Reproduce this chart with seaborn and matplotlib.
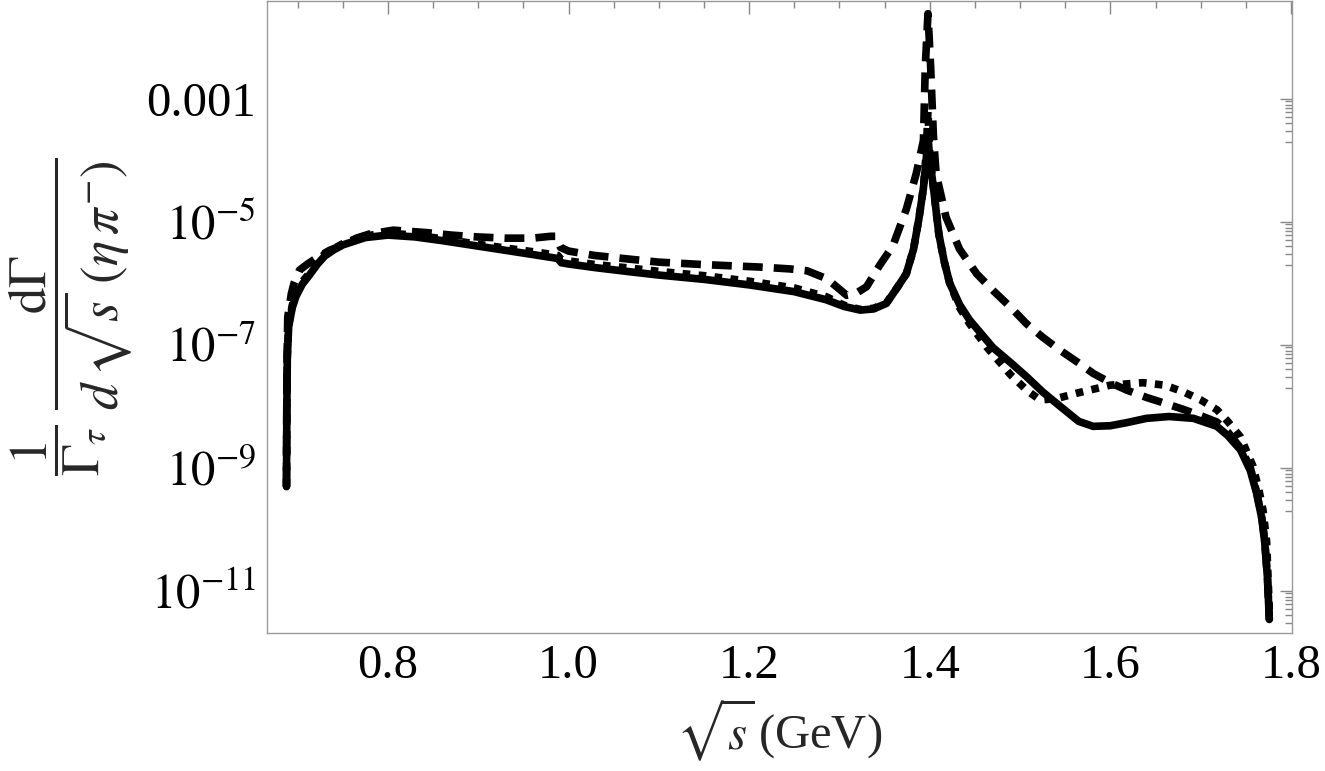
import numpy as np
import seaborn as sns
import matplotlib.pyplot as plt
from matplotlib.ticker import FixedLocator, FixedFormatter, MultipleLocator, NullFormatter, FormatStrFormatter

# curves: sqrt(s) in GeV, value as log10
solid_x = [0.6876, 0.6880, 0.6885, 0.690, 0.694, 0.698, 0.705, 0.713, 0.722, 0.730, 0.740, 0.750, 0.775,
           0.800, 0.830, 0.860, 0.900, 0.940, 0.975, 0.988, 0.992, 1.000, 1.030, 1.070, 1.100, 1.150,
           1.200, 1.250, 1.285, 1.305, 1.323, 1.338, 1.352, 1.365, 1.374, 1.382, 1.388, 1.393, 1.396,
           1.398, 1.400, 1.404, 1.410, 1.416, 1.422, 1.433, 1.444, 1.470, 1.490, 1.507, 1.525, 1.544,
           1.565, 1.581, 1.600, 1.618, 1.640, 1.665, 1.692, 1.718, 1.730, 1.744, 1.755, 1.762, 1.768,
           1.771, 1.774, 1.776]
solid_log = [-9.31, -8.0, -7.2, -6.71, -6.40, -6.22, -6.02, -5.87, -5.69, -5.56, -5.46, -5.38, -5.26,
             -5.22, -5.25, -5.31, -5.40, -5.49, -5.57, -5.60, -5.67, -5.69, -5.75, -5.82, -5.87, -5.94,
             -6.03, -6.14, -6.27, -6.38, -6.44, -6.42, -6.33, -6.05, -5.85, -5.45, -4.95, -4.45, -4.0,
             -3.6, -4.0, -4.44, -5.2, -5.65, -6.0, -6.35, -6.6, -7.05, -7.30, -7.52, -7.77, -8.0,
             -8.25, -8.33, -8.32, -8.27, -8.20, -8.17, -8.20, -8.33, -8.48, -8.71, -9.05, -9.42, -9.85,
             -10.23, -10.8, -11.47]

dashed_x = [0.6876, 0.6880, 0.689, 0.693, 0.696, 0.702, 0.710, 0.720, 0.735, 0.750, 0.765, 0.780,
            0.806, 0.843, 0.870, 0.899, 0.930, 0.960, 0.980, 0.986, 0.991, 1.000, 1.028, 1.060, 1.100,
            1.150, 1.212, 1.245, 1.264, 1.286, 1.300, 1.308, 1.318, 1.330, 1.345, 1.359, 1.374, 1.385,
            1.393, 1.395, 1.398, 1.401, 1.404, 1.407, 1.418, 1.433, 1.452, 1.470, 1.490, 1.507, 1.525,
            1.544, 1.565, 1.581, 1.600, 1.618, 1.640, 1.655, 1.680, 1.699, 1.718, 1.730, 1.744, 1.755,
            1.762, 1.768, 1.771, 1.774, 1.776]
dashed_log = [-9.31, -7.5, -6.55, -6.17, -6.0, -5.79, -5.70, -5.60, -5.47, -5.38, -5.27, -5.20,
              -5.14, -5.18, -5.22, -5.25, -5.27, -5.27, -5.24, -5.24, -5.42, -5.48, -5.55, -5.60, -5.66,
              -5.70, -5.74, -5.77, -5.80, -5.93, -6.10, -6.20, -6.17, -6.06, -5.70, -5.40, -4.80, -4.22,
              -3.68, -2.49, -1.62, -2.5, -3.6, -4.22, -4.93, -5.45, -5.85, -6.12, -6.40, -6.66, -6.88,
              -7.09, -7.30, -7.47, -7.62, -7.74, -7.86, -7.93, -8.05, -8.15, -8.26, -8.42, -8.68, -9.0,
              -9.40, -9.85, -10.2, -10.8, -11.47]

dotted_x = [0.6876, 0.6880, 0.6885, 0.690, 0.694, 0.698, 0.705, 0.713, 0.722, 0.730, 0.750, 0.775,
            0.800, 0.830, 0.860, 0.900, 0.940, 0.975, 0.988, 0.992, 1.000, 1.030, 1.070, 1.100, 1.150,
            1.200, 1.250, 1.285, 1.305, 1.323, 1.338, 1.352, 1.365, 1.374, 1.382, 1.388, 1.393, 1.396,
            1.398, 1.400, 1.404, 1.410, 1.416, 1.422, 1.433, 1.444, 1.463, 1.490, 1.508, 1.522, 1.540,
            1.563, 1.600, 1.636, 1.660, 1.681, 1.700, 1.718, 1.730, 1.744, 1.758, 1.765, 1.769, 1.773,
            1.776]
dotted_log = [-9.31, -8.0, -7.2, -6.68, -6.36, -6.18, -5.98, -5.84, -5.66, -5.52, -5.36, -5.23,
              -5.19, -5.22, -5.28, -5.37, -5.45, -5.52, -5.55, -5.62, -5.64, -5.70, -5.76, -5.81, -5.88,
              -5.97, -6.08, -6.22, -6.36, -6.43, -6.41, -6.32, -6.05, -5.85, -5.45, -4.95, -4.45, -3.9,
              -3.2, -3.9, -4.44, -5.2, -5.65, -6.0, -6.40, -6.66, -7.04, -7.50, -7.75, -7.90, -7.88,
              -7.79, -7.66, -7.62, -7.66, -7.77, -7.90, -8.06, -8.25, -8.50, -8.98, -9.4, -9.69, -10.2,
              -11.3]

ytick_vals = [1e-3, 1e-5, 1e-7, 1e-9, 1e-11]
ytick_labels = ['0.001', r'$10^{-5}$', r'$10^{-7}$', r'$10^{-9}$', r'$10^{-11}$']

sns.set_theme(style="white")
plt.rcParams['font.family'] = ['Liberation Serif', 'DejaVu Serif']
plt.rcParams['mathtext.fontset'] = 'stix'

fig, ax = plt.subplots(figsize=(13.25, 7.71), dpi=100)
fig.subplots_adjust(left=0.2015, right=0.975, bottom=0.179, top=0.999)

sns.lineplot(x=solid_x, y=10 ** np.array(solid_log), ax=ax, color='black',
             linewidth=5.5, estimator=None, sort=False)
sns.lineplot(x=dotted_x, y=10 ** np.array(dotted_log), ax=ax, color='black',
             linewidth=5.5, linestyle=(0, (1.0, 1.1)), dash_capstyle='butt', estimator=None, sort=False)
sns.lineplot(x=dashed_x, y=10 ** np.array(dashed_log), ax=ax, color='black',
             linewidth=5.5, linestyle=(0, (2.6, 1.45)), dash_capstyle='butt', estimator=None, sort=False)

ax.set_yscale('log')
ax.set_xlim(0.666, 1.801)
ax.set_ylim(10 ** -11.69, 10 ** -1.41)

ax.xaxis.set_major_locator(MultipleLocator(0.2))
ax.xaxis.set_major_formatter(FormatStrFormatter('%.1f'))
ax.xaxis.set_minor_locator(MultipleLocator(0.05))

ax.yaxis.set_major_locator(FixedLocator(ytick_vals))
ax.yaxis.set_major_formatter(FixedFormatter(ytick_labels))
ax.yaxis.set_minor_locator(FixedLocator([m * v / 10 for v in ytick_vals for m in range(2, 10)]))
ax.yaxis.set_minor_formatter(NullFormatter())

ax.tick_params(which='both', direction='in', top=True, right=True, color='#888888',
               labelcolor='black', labelsize=35, width=1, pad=8)
ax.tick_params(which='major', length=9)
ax.tick_params(which='minor', length=5)
for sp in ax.spines.values():
    sp.set_color('#999999')
    sp.set_linewidth(1)

ax.set_xlabel(r'$\sqrt{s}\,$(GeV)', fontsize=35, labelpad=6)
ax.set_ylabel(r'$\dfrac{1}{\Gamma_\tau}\;\dfrac{\mathrm{d}\Gamma}{d\,\sqrt{s}\;(\eta\,\pi^{-})}$',
              fontsize=38, labelpad=8)

plt.savefig("out.png", dpi=100)
